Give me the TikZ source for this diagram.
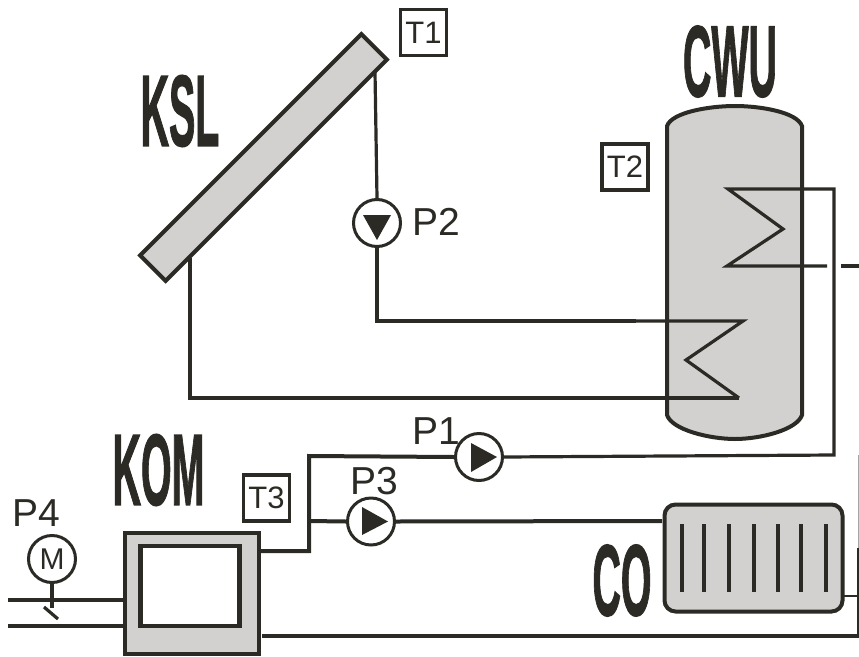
\documentclass[tikz,border=0pt]{standalone}
\usepackage{fontspec}
\setmainfont{Liberation Sans}
\newfontfamily\titlefont[FakeBold=1.6]{Liberation Sans Bold}
\definecolor{ink}{HTML}{2B2A25}
\definecolor{fillgray}{HTML}{D2D1CF}
\tikzset{
  pipe/.style={draw=ink, line width=4pt},
  thinpipe/.style={draw=ink, line width=3.2pt},
  pump/.style={circle, draw=ink, fill=white, line width=3pt, minimum size=47pt, inner sep=0pt},
  blade/.style={fill=ink, draw=none},
  sensor/.style={rectangle, draw=ink, fill=white, line width=3.6pt, minimum size=46pt, inner sep=0pt, text=ink, font=\fontsize{31}{31}\selectfont},
  tag/.style={text=ink, inner sep=0pt, font=\fontsize{39}{39}\selectfont},
  title/.style={text=ink, inner sep=0pt, font=\fontsize{101}{101}\titlefont, transform shape, xscale=.39}
}

\begin{document}
\begin{tikzpicture}[x=1pt, y=-1pt]
\useasboundingbox (0,0) rectangle (859,656);

\coordinate (hxa) at (728,189);
\coordinate (hxb) at (783,229);
\coordinate (hxc) at (727,266);
\coordinate (hxd) at (743,321);
\coordinate (hxe) at (686,360);
\coordinate (hxf) at (739,398);
\coordinate (ra) at (834,189);
\coordinate (rb) at (834,455);
\coordinate (la) at (190,258);
\coordinate (lb) at (190,398);
\coordinate (ma) at (377,321);
\coordinate (mb) at (636,321);
\coordinate (sa) at (375,72);
\coordinate (ka) at (309,456);
\coordinate (kb) at (309,551);
\coordinate (kc) at (309,521);
\coordinate (ea) at (827,266);
\coordinate (eb) at (841,266);
\coordinate (ec) at (859,266);
\coordinate (rg) at (843,596);
\coordinate (rh) at (858,596);
\coordinate (ba) at (262,636);
\coordinate (bb) at (859,636);
\coordinate (va) at (8,600);
\coordinate (vb) at (8,626);
\coordinate (vc) at (124,600);
\coordinate (vd) at (124,626);
\coordinate (sb) at (52,608);
\coordinate (sc) at (44,607);
\coordinate (sd) at (58,619);
\coordinate (ega) at (858,455);
\coordinate (egb) at (858,548);
\coordinate (egc) at (858,636);

% tank
\draw[draw=ink, line width=4pt, fill=fillgray]
  (667,126) .. controls (672,112) and (710,106) .. (735,106)
  .. controls (760,106) and (797,112) .. (802,126)
  -- (802,415) .. controls (797,430) and (760,439) .. (735,439)
  .. controls (710,439) and (672,430) .. (667,415) -- cycle;

% collector
\node[rectangle, draw=ink, fill=fillgray, line width=4pt, rotate=45, minimum width=313pt, minimum height=36pt, inner sep=0pt] (ksl) at (263.5,157.5) {};

% boiler
\node[rectangle, draw=ink, fill=fillgray, line width=4pt, minimum width=134pt, minimum height=121pt, inner sep=0pt] (kom) at (191.5,593.5) {};
\node[rectangle, draw=ink, fill=white, line width=4.4pt, minimum width=99pt, minimum height=80pt, inner sep=0pt] (komin) at (190,586) {};

% radiator
\node[rectangle, rounded corners=11pt, draw=ink, fill=fillgray, line width=4pt, minimum width=178pt, minimum height=107pt, inner sep=0pt] (rad) at (753.5,558) {};
\foreach \x in {682,704,729,754,778,801,826}
  \draw[pipe] (\x,524) -- (\x,592);

\node[pump] (p2) at (377,223) {};
\node[pump] (p1) at (479,457) {};
\node[pump] (p3) at (371,521.5) {};
\node[pump, text=ink, font=\fontsize{30}{30}\selectfont] (m) at (52,559) {M};

\fill[blade] (363,215) -- (391,215) -- (377,240) -- cycle;
\fill[blade] (471,443) -- (497,457) -- (471,472) -- cycle;
\fill[blade] (362,507) -- (388,521.5) -- (362,535) -- cycle;

\node[sensor, line width=3pt] (t1) at (423.5,32.5) {T1};
\node[sensor] (t2) at (625,167) {T2};
\node[sensor] (t3) at (266.5,498) {T3};

\node[tag, anchor=base west] (lp1) at (412,444) {P1};
\node[tag, anchor=base west] (lp2) at (412,235.5) {P2};
\node[tag, anchor=base west] (lp3) at (350,494) {P3};
\node[tag, anchor=base west] (lp4) at (12,526) {P4};

\node[title] (lksl) at (180,111) {KSL};
\node[title] (lcwu) at (730,61.5) {CWU};
\node[title] (lkom) at (158.5,470) {KOM};
\node[title] (lco) at (622,580.5) {CO};

\path
(sa) edge[thinpipe] (p2.north)
(ec) edge[thinpipe] (eb)
(rg) edge[thinpipe, line width=2.4pt] (rh)
(m.south) edge[thinpipe] (sb)
(sc) edge[thinpipe] (sd)
(kc) edge[pipe] (p3.west)
(ba) edge[pipe] (bb)
(va) edge[pipe] (vc)
(vb) edge[pipe] (vd)
(ega) edge[draw=black!35, line width=1pt] (egb)
(egb) edge[draw=ink, line width=1.6pt] (egc);

\draw[pipe] (p2.south) -- (ma) -- (mb);
\draw[thinpipe] (mb) -- (hxd) -- (hxe) -- (hxf);
\draw[pipe] (hxf) -- (lb) -- (la);

\draw[thinpipe] (ea) -- (hxc) -- (hxb) -- (hxa) -- (ra) -- (rb) -- (p1.east);
\draw[pipe] (p1.west) -- (ka) -- (kb) -- (kom.east |- kb);
\draw[pipe] (p3.east) -- (662,521);

\end{tikzpicture}
\end{document}
